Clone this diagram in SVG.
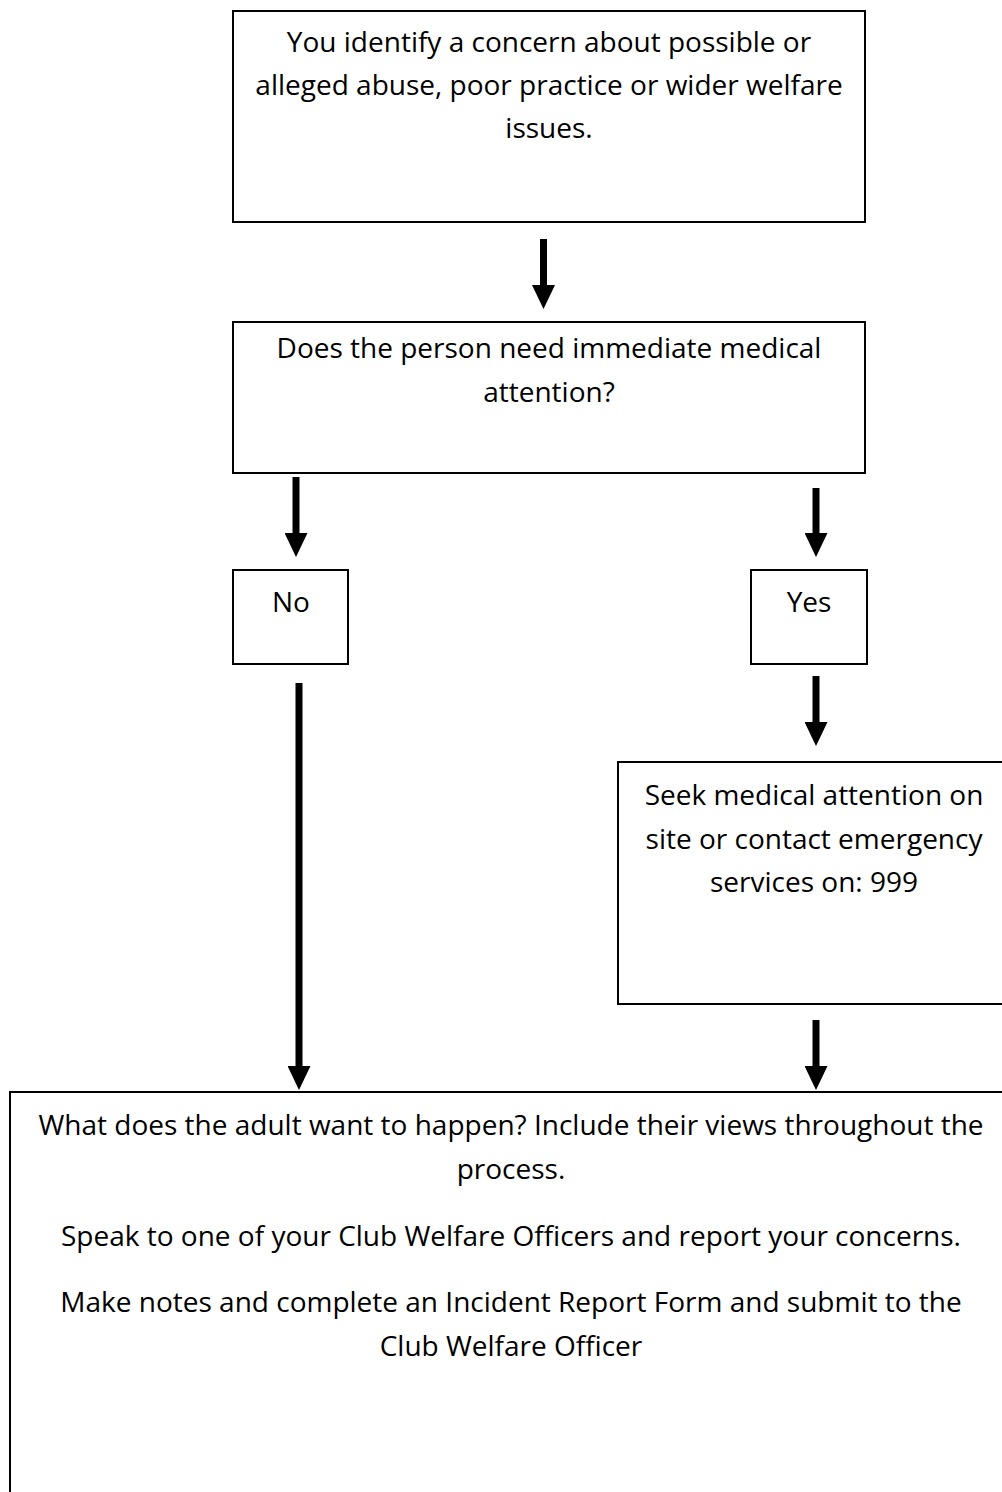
<svg xmlns="http://www.w3.org/2000/svg" width="1002" height="1492" viewBox="0 0 1002 1492">
<style>
.box{fill:#fff;stroke:#000;stroke-width:2}
.t{font-family:"Open Sans","Noto Sans",sans-serif;font-size:28px;fill:#000;text-anchor:middle}
.arr{stroke:#000;stroke-width:7;fill:none;marker-end:url(#head)}
</style>
<defs>
<marker id="head" viewBox="0 0 24 23" refX="0" refY="11.5" markerWidth="24" markerHeight="23" markerUnits="userSpaceOnUse" orient="auto">
<path d="M0,0 L24,11.5 L0,23 Z" fill="#000"/>
</marker>
</defs>
<rect width="1002" height="1492" fill="#fff"/>
<g id="n1">
<rect class="box" x="233" y="11" width="632" height="211"/>
<text class="t" x="549" y="52">You identify a concern about possible or</text>
<text class="t" x="549" y="95">alleged abuse, poor practice or wider welfare</text>
<text class="t" x="549" y="138">issues.</text>
</g>
<g id="n2">
<rect class="box" x="233" y="322" width="632" height="151"/>
<text class="t" x="549" y="358">Does the person need immediate medical</text>
<text class="t" x="549" y="402">attention?</text>
</g>
<g id="no">
<rect class="box" x="233" y="570" width="115" height="94"/>
<text class="t" x="291" y="612">No</text>
</g>
<g id="yes">
<rect class="box" x="751" y="570" width="116" height="94"/>
<text class="t" x="809" y="612">Yes</text>
</g>
<g id="seek">
<rect class="box" x="618" y="762" width="400" height="242"/>
<text class="t" x="814" y="805">Seek medical attention on</text>
<text class="t" x="814" y="849">site or contact emergency</text>
<text class="t" x="814" y="892">services on: 999</text>
</g>
<g id="final">
<rect class="box" x="10" y="1092" width="1010" height="420"/>
<text class="t" x="511" y="1135">What does the adult want to happen? Include their views throughout the</text>
<text class="t" x="511" y="1179">process.</text>
<text class="t" x="511" y="1246">Speak to one of your Club Welfare Officers and report your concerns.</text>
<text class="t" x="511" y="1312">Make notes and complete an Incident Report Form and submit to the</text>
<text class="t" x="511" y="1356">Club Welfare Officer</text>
</g>
<g id="connectors">
<line class="arr" x1="543.5" y1="239" x2="543.5" y2="285"/>
<line class="arr" x1="296" y1="477" x2="296" y2="533"/>
<line class="arr" x1="816" y1="488" x2="816" y2="533"/>
<line class="arr" x1="299" y1="683" x2="299" y2="1066"/>
<line class="arr" x1="816" y1="676" x2="816" y2="722"/>
<line class="arr" x1="816" y1="1020" x2="816" y2="1066"/>
</g>
</svg>
